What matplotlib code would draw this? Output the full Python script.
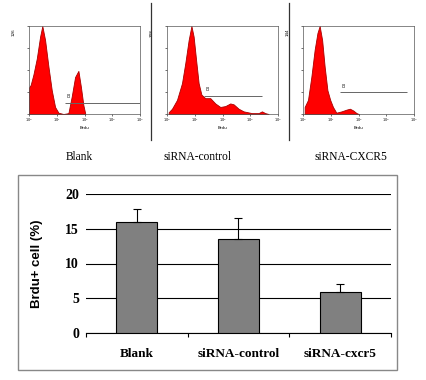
import matplotlib
matplotlib.use("Agg")
import matplotlib.pyplot as plt
from matplotlib.patches import Rectangle
from matplotlib.lines import Line2D

# flow histograms: x in log10 units, y as fraction of max count
blank_logx = [0.0, 0.06, 0.16, 0.28, 0.40, 0.48, 0.58, 0.70, 0.82, 0.94, 1.06, 1.24, 1.42,
              1.54, 1.66, 1.78, 1.87, 1.96, 2.03]
blank_y = [0.30, 0.33, 0.45, 0.63, 0.88, 1.00, 0.84, 0.54, 0.27, 0.08, 0.015, 0.0, 0.01,
           0.20, 0.42, 0.49, 0.31, 0.10, 0.0]

ctrl_logx = [0.06, 0.18, 0.36, 0.54, 0.66, 0.78, 0.88, 0.96, 1.05, 1.14, 1.24, 1.38,
             1.56, 1.74, 1.92, 2.10, 2.28, 2.40, 2.58, 2.76, 3.06, 3.30, 3.42, 3.54, 3.66]
ctrl_y = [0.02, 0.06, 0.16, 0.35, 0.58, 0.84, 1.00, 0.88, 0.61, 0.35, 0.22, 0.18,
          0.18, 0.12, 0.08, 0.09, 0.12, 0.11, 0.06, 0.03, 0.01, 0.01, 0.03, 0.01, 0.0]

cxcr5_logx = [0.06, 0.18, 0.30, 0.42, 0.52, 0.60, 0.69, 0.78, 0.88, 0.98, 1.08, 1.20,
              1.39, 1.57, 1.69, 1.81, 1.93, 2.01]
cxcr5_y = [0.08, 0.16, 0.42, 0.73, 0.92, 1.00, 0.84, 0.54, 0.27, 0.16, 0.08, 0.015,
           0.03, 0.05, 0.06, 0.04, 0.01, 0.0]

hist_max = ["126", "208", "144"]
gate_start = [1.30, 1.32, 1.33]
gate_end = [4.0, 3.42, 3.76]
gate_level = [0.13, 0.21, 0.25]
panel_names = ["Blank", "siRNA-control", "siRNA-CXCR5"]

# bar chart
groups = ["Blank", "siRNA-control", "siRNA-cxcr5"]
brdu_pct = [16.0, 13.5, 5.9]
brdu_err = [1.8, 3.0, 1.1]

W, H = 426, 380
fig = plt.figure(figsize=(W / 100, H / 100), dpi=100)


def box(x0, y0, x1, y1):
    return [x0 / W, 1 - y1 / H, (x1 - x0) / W, (y1 - y0) / H]


serif = "Liberation Serif"
sans = "Liberation Sans"

hist_boxes = [(29, 26, 140, 114), (167, 26, 278, 114), (303, 26, 414, 114)]
hist_data = [(blank_logx, blank_y), (ctrl_logx, ctrl_y), (cxcr5_logx, cxcr5_y)]
label_x = [79, 198, 351]

for i, (b, (lx, ly)) in enumerate(zip(hist_boxes, hist_data)):
    ax = fig.add_axes(box(*b))
    ax.fill_between(lx, 0, ly, color="#ff0000", linewidth=0.6, edgecolor="#aa0000")
    ax.set_xlim(0, 4)
    ax.set_ylim(0, 1.0)
    ax.hlines(gate_level[i], gate_start[i], gate_end[i], color="#666666", linewidth=0.7)
    ax.text(gate_start[i] + 0.05, gate_level[i] + 0.05, "B", fontsize=3.5, color="#333333")
    ax.set_xticks([0, 1, 2, 3, 4])
    ax.set_xticklabels(["10$^0$", "10$^1$", "10$^2$", "10$^3$", "10$^4$"], fontsize=2.5)
    ax.set_yticks([0, 0.25, 0.5, 0.75, 1.0])
    ax.set_yticklabels([])
    ax.tick_params(length=1.5, width=0.4, pad=0.5)
    ax.set_xlabel("Brdu", fontsize=3, labelpad=1)
    ax.text(-0.12, 0.97, hist_max[i], rotation=90, fontsize=3, ha="right", va="top",
            transform=ax.transAxes)
    for s in ax.spines.values():
        s.set_linewidth(0.5)
        s.set_color("#555555")
    fig.text(label_x[i] / W, 1 - 157 / H, panel_names[i], family=serif, fontsize=8.3,
             ha="center", va="center")

# separators between the flow panels
for sx in [151, 289]:
    fig.add_artist(Line2D([sx / W, sx / W], [1 - 3 / H, 1 - 140 / H], color="#333333",
                          linewidth=0.9))

# outer frame of the bar chart
fig.add_artist(Rectangle((18 / W, 1 - 370 / H), (397 - 18) / W, (370 - 175) / H,
                         transform=fig.transFigure, fill=False, edgecolor="#888888",
                         linewidth=1.0))

ax = fig.add_axes(box(86, 194, 391, 333))
xpos = range(len(groups))
ax.bar(xpos, brdu_pct, width=0.4, color="#808080", edgecolor="black", linewidth=0.8,
       zorder=3)
ax.errorbar(xpos, brdu_pct, yerr=[[0] * 3, brdu_err], fmt="none", ecolor="black",
            elinewidth=0.8, capsize=3, capthick=0.8, zorder=4)
ax.set_xlim(-0.5, 2.5)
ax.set_ylim(0, 20)
ax.set_yticks([0, 5, 10, 15, 20])
ax.set_yticklabels(["0", "5", "10", "15", "20"], family=serif, fontweight="bold",
                   fontsize=10)
ax.yaxis.grid(True, color="black", linewidth=0.8, zorder=0)
ax.tick_params(axis="y", length=0, pad=5)
ax.set_xticks([-0.5, 0.5, 1.5, 2.5])
ax.set_xticklabels([])
ax.tick_params(axis="x", length=3, width=0.8, direction="out")
for k, g in enumerate(groups):
    ax.text(k, -3.0, g, family=serif, fontweight="bold", fontsize=9.5, ha="center",
            va="center")
for s in ["top", "right", "left"]:
    ax.spines[s].set_visible(False)
ax.spines["bottom"].set_linewidth(0.8)
ax.set_ylabel("Brdu+ cell (%)", family=sans, fontweight="bold", fontsize=9.5,
              labelpad=16)

fig.savefig("out.png", dpi=100)
